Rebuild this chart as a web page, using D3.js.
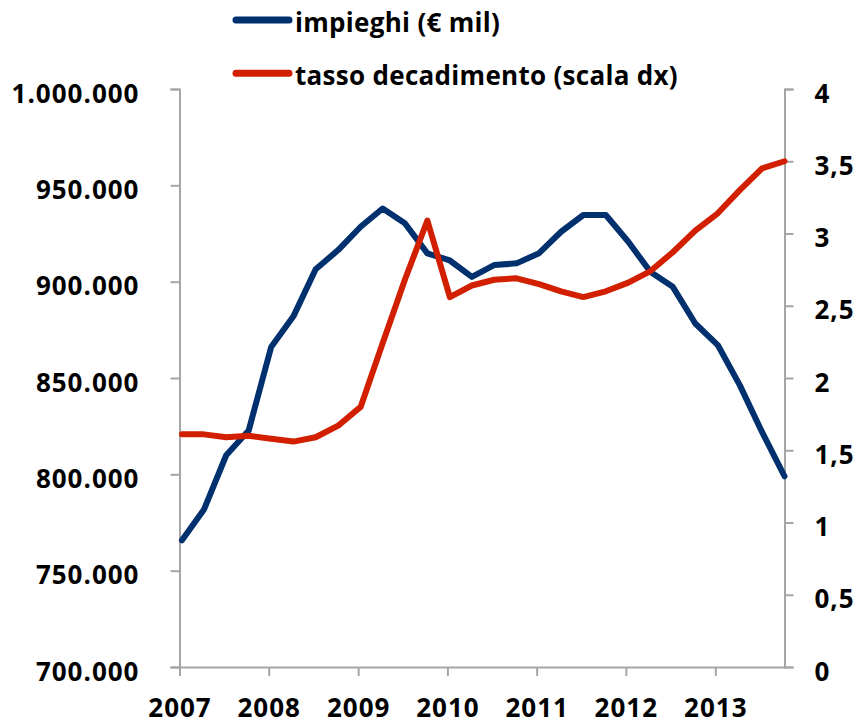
<!DOCTYPE html>
<html>
<head>
<meta charset="utf-8">
<script src="https://cdn.jsdelivr.net/npm/d3@7"></script>
<style>
  body { margin: 0; background: #fff; }
  svg text { font-family: "Open Sans", Lato, sans-serif; font-weight: bold; fill: #000; letter-spacing: 1px; }
  svg .legend-label { letter-spacing: 0.3px; }
</style>
</head>
<body>
<div id="chart"></div>
<script>
// quarterly observations
const periods = [
  "2007-01", "2007-04", "2007-07", "2007-10",
  "2008-01", "2008-04", "2008-07", "2008-10",
  "2009-01", "2009-04", "2009-07", "2009-10",
  "2010-01", "2010-04", "2010-07", "2010-10",
  "2011-01", "2011-04", "2011-07", "2011-10",
  "2012-01", "2012-04", "2012-07", "2012-10",
  "2013-01", "2013-04", "2013-07", "2013-10"
];

// impieghi (€ mil), left scale
const impieghi = [
  765800, 781700, 809900, 822700,
  866100, 882000, 906400, 916400,
  928500, 938000, 930300, 914700,
  911000, 902500, 908600, 909500,
  914800, 925900, 934600, 934600,
  920700, 905000, 897300, 878300,
  867100, 846300, 822000, 799000
];

// tasso decadimento, right scale
const tasso = [
  1.61, 1.61, 1.59, 1.60,
  1.58, 1.56, 1.59, 1.67,
  1.80, 2.24, 2.68, 3.09,
  2.56, 2.64, 2.68, 2.69,
  2.65, 2.60, 2.56, 2.60,
  2.66, 2.74, 2.87, 3.02,
  3.14, 3.30, 3.45, 3.50
];

const leftTicks = [700000, 750000, 800000, 850000, 900000, 950000, 1000000];
const rightTicks = [0, 0.5, 1, 1.5, 2, 2.5, 3, 3.5, 4];
const seriesNames = ["impieghi (€ mil)", "tasso decadimento (scala dx)"];
const colors = ["#00316E", "#D11F00"];

const config = {
    width: 858,
    height: 724,
    left: 179.5,
    right: 784.5,
    top: 89,
    bottom: 667,
    fontSize: "26px"
};

const parseDate = d3.timeParse("%Y-%m");
const dates = periods.map(p => {
    const d = parseDate(p);
    d.setDate(11);
    return d;
});

const svg = d3.select("#chart")
    .append("svg")
    .attr("width", config.width)
    .attr("height", config.height);

const xScale = d3.scaleTime()
    .domain([new Date(2007, 0, 1), dates[dates.length - 1]])
    .range([config.left, config.right]);

const yLeft = d3.scaleLinear()
    .domain([700000, 1000000])
    .range([config.bottom, config.top]);

const yRight = d3.scaleLinear()
    .domain([0, 4])
    .range([config.bottom, config.top]);

const itFormat = d3.formatLocale({ decimal: ",", thousands: ".", grouping: [3], currency: ["€", ""] });
const fmtLeft = itFormat.format(",.0f");
const fmtRight = v => itFormat.format(",")(v);

const axisColor = "#A6A6A6";

function styleAxis(g) {
    g.selectAll(".domain").attr("stroke", axisColor).attr("stroke-width", 2);
    g.selectAll(".tick line").attr("stroke", axisColor).attr("stroke-width", 2);
    g.selectAll(".tick text").style("font-size", config.fontSize).attr("fill", "#000");
}

// left axis
svg.append("g")
    .attr("transform", "translate(" + config.left + ",0)")
    .call(d3.axisLeft(yLeft).tickValues(leftTicks).tickFormat(fmtLeft).tickSize(9).tickPadding(31).tickSizeOuter(9))
    .call(styleAxis)
    .call(g => g.selectAll(".tick text").attr("dy", "0.5em"));

// right axis
svg.append("g")
    .attr("transform", "translate(" + config.right + ",0)")
    .call(d3.axisRight(yRight).tickValues(rightTicks).tickFormat(fmtRight).tickSize(9).tickPadding(21).tickSizeOuter(9))
    .call(styleAxis)
    .call(g => g.selectAll(".tick text").attr("dy", "0.5em"));

// bottom axis
svg.append("g")
    .attr("transform", "translate(0," + config.bottom + ")")
    .call(d3.axisBottom(xScale).ticks(d3.timeYear.every(1)).tickFormat(d3.timeFormat("%Y")).tickSize(9).tickPadding(23).tickSizeOuter(0))
    .call(styleAxis);

const lineLeft = d3.line()
    .x((d, i) => xScale(dates[i]))
    .y(d => yLeft(d));

const lineRight = d3.line()
    .x((d, i) => xScale(dates[i]))
    .y(d => yRight(d));

svg.append("path")
    .datum(impieghi)
    .attr("d", lineLeft)
    .attr("fill", "none")
    .attr("stroke", colors[0])
    .attr("stroke-width", 6)
    .attr("stroke-linejoin", "round")
    .attr("stroke-linecap", "round");

svg.append("path")
    .datum(tasso)
    .attr("d", lineRight)
    .attr("fill", "none")
    .attr("stroke", colors[1])
    .attr("stroke-width", 6)
    .attr("stroke-linejoin", "round")
    .attr("stroke-linecap", "round");

// legend
const legend = svg.append("g")
    .selectAll("g")
    .data(seriesNames)
    .enter().append("g")
    .attr("transform", (d, i) => "translate(0," + (20 + i * 53.3) + ")");

legend.append("line")
    .attr("x1", 236)
    .attr("x2", 289)
    .attr("y1", 0)
    .attr("y2", 0)
    .attr("stroke", (d, i) => colors[i])
    .attr("stroke-width", 7)
    .attr("stroke-linecap", "round");

legend.append("text")
    .attr("class", "legend-label")
    .attr("x", 295)
    .attr("y", 11.7)
    .style("font-size", config.fontSize)
    .text(d => d);
</script>
</body>
</html>
